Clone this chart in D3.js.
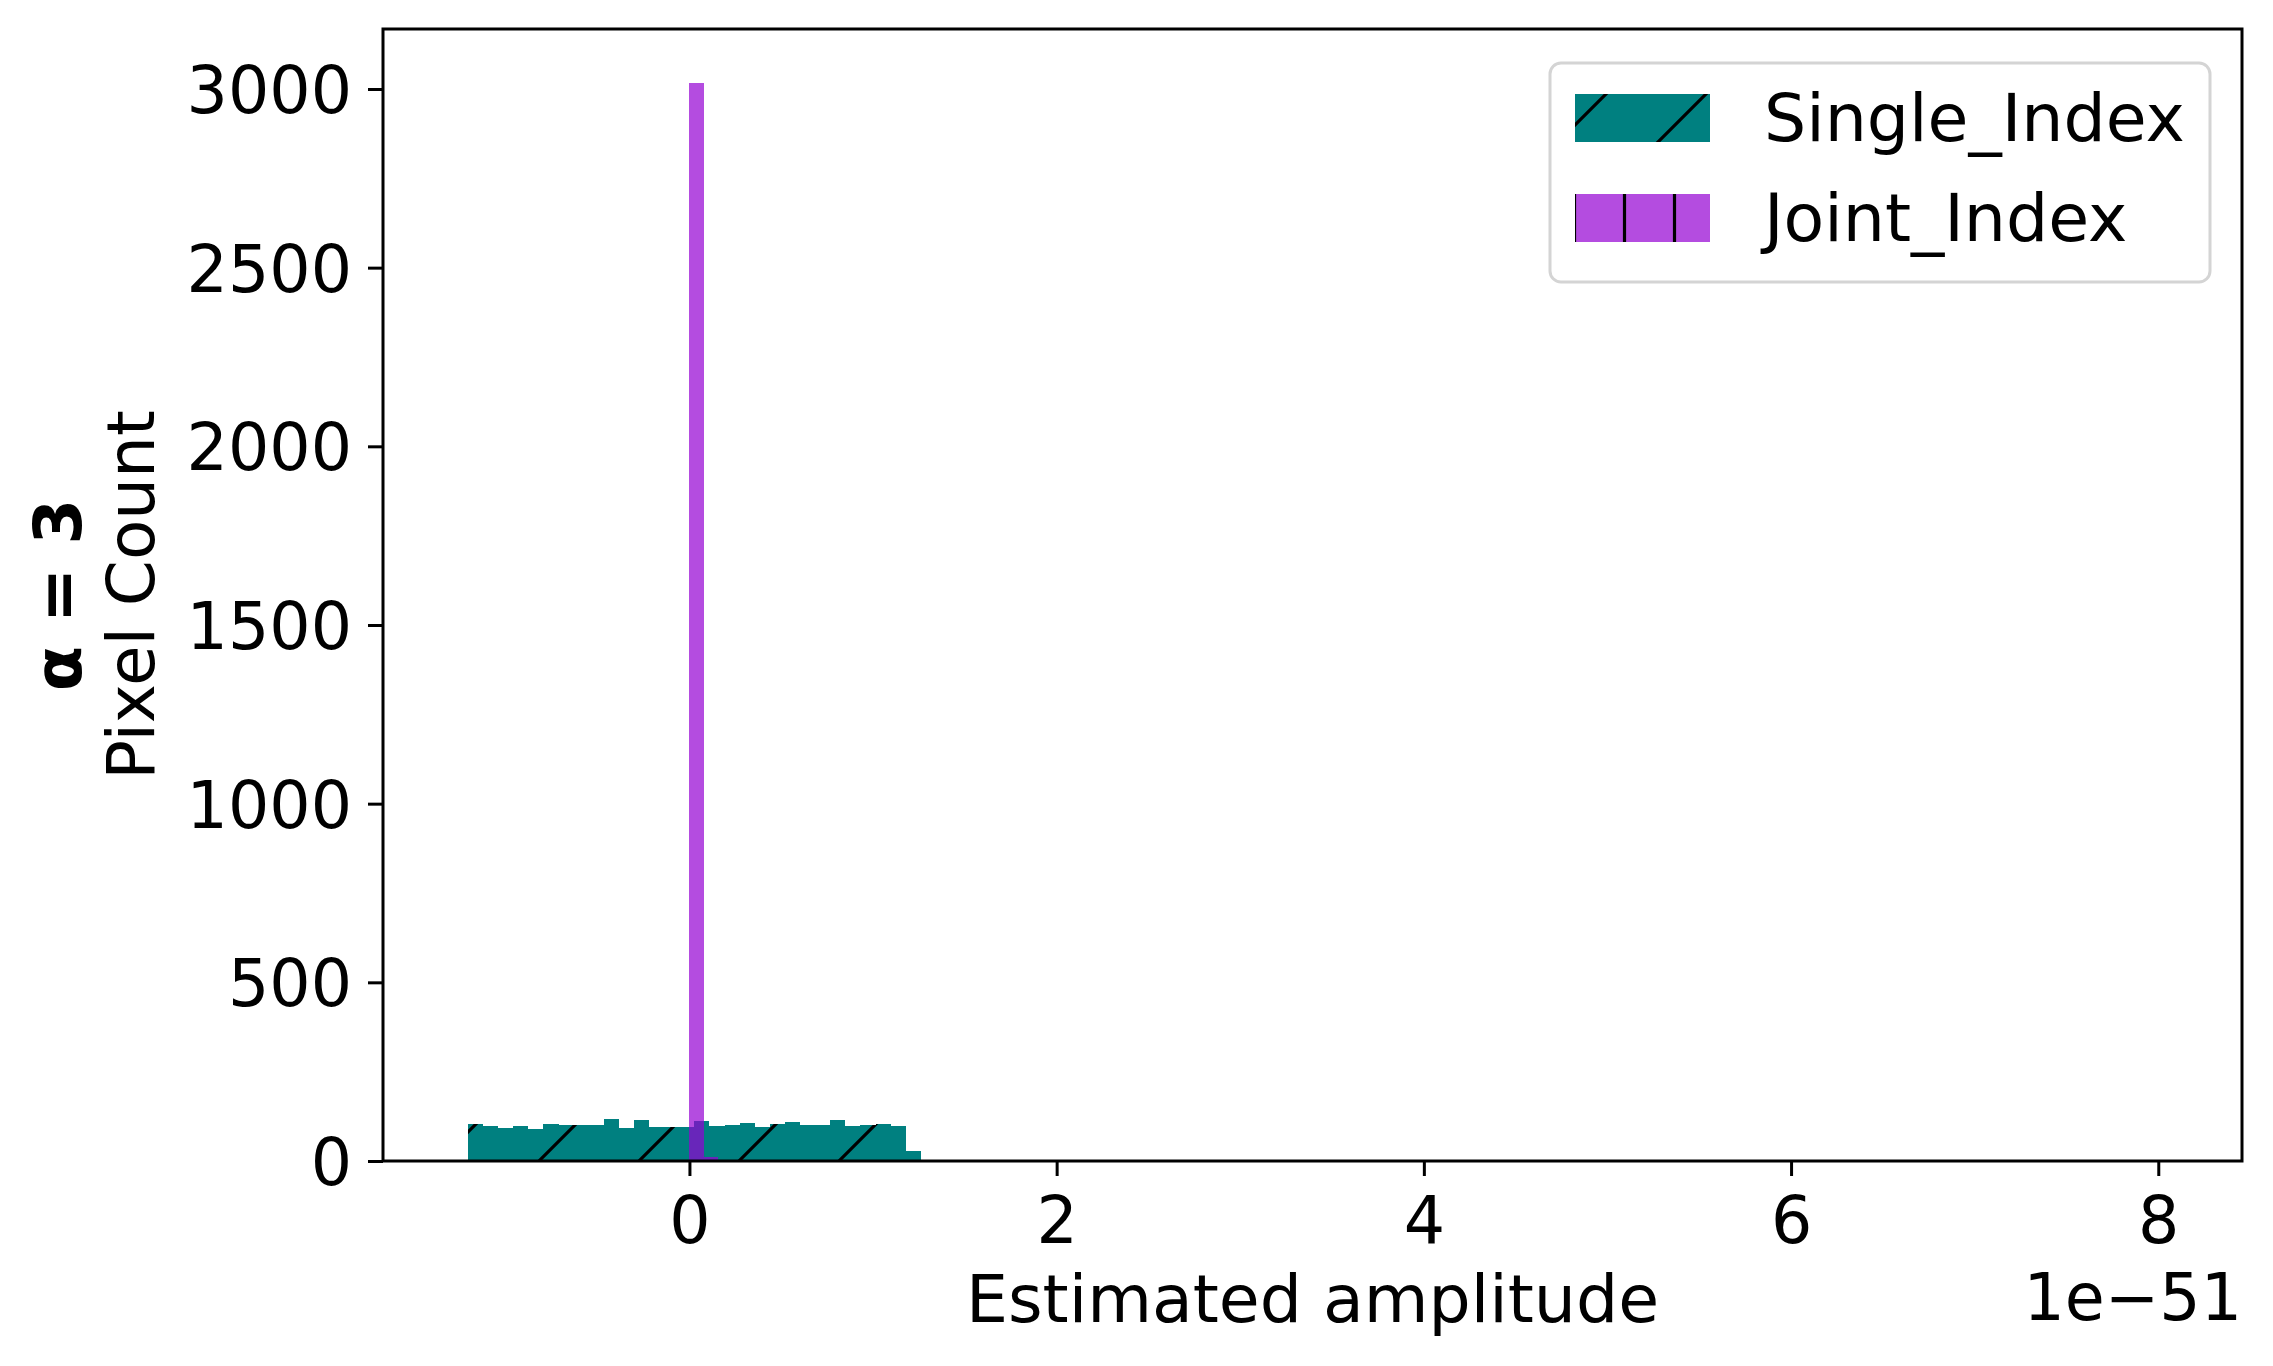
<!DOCTYPE html>
<html>
<head>
<meta charset="utf-8">
<script src="https://cdn.jsdelivr.net/npm/d3@7"></script>
<style>
  body { margin: 0; background: #fff; }
  text { font-family: "DejaVu Sans", sans-serif; }
</style>
</head>
<body>
<div id="myChart"></div>
<script>
// histogram data (amplitudes in units of 1e-51)
const singleStart = -1.206
const singleBinWidth = 0.0822
const singleCounts = [103, 97, 92, 97, 90, 103, 100, 100, 100, 117, 92, 114, 94, 94, 94,
  111, 97, 100, 105, 94, 103, 108, 100, 100, 114, 97, 100, 103, 97, 27]

const jointStart = 0.0
const jointBinWidth = 0.079
const jointCounts = [3017, 11]

const xLimits = [-1.669, 8.456]
const xTicks = [0, 2, 4, 6, 8]
const yTicks = [0, 500, 1000, 1500, 2000, 2500, 3000]
const seriesNames = ["Single_Index", "Joint_Index"]

let width = 2273
let height = 1366
const plot = { left: 383, right: 2242, top: 29, bottom: 1161 }

let svg = d3.select("#myChart")
  .append("svg")
  .attr("width", width)
  .attr("height", height)

let x = d3.scaleLinear().domain(xLimits).range([plot.left, plot.right])
let yMax = d3.max(jointCounts) * 1.05
let y = d3.scaleLinear().domain([0, yMax]).range([plot.bottom, plot.top])

// hatch patterns
let defs = svg.append("defs")
let slash = defs.append("pattern")
  .attr("id", "hatchSlash")
  .attr("patternUnits", "userSpaceOnUse")
  .attr("width", 100).attr("height", 100)
slash.append("path")
  .attr("d", "M0,100 L100,0 M-50,50 L50,-50 M50,150 L150,50")
  .attr("stroke", "#000").attr("stroke-width", 3.2)

let vbar = defs.append("pattern")
  .attr("id", "hatchVert")
  .attr("patternUnits", "userSpaceOnUse")
  .attr("width", 50).attr("height", 50)
vbar.append("path")
  .attr("d", "M24.5,0 V50")
  .attr("stroke", "#000").attr("stroke-width", 3.2)

let singleBins = singleCounts.map((c, i) => ({ x0: singleStart + i * singleBinWidth, x1: singleStart + (i + 1) * singleBinWidth, n: c }))
let jointBins = jointCounts.map((c, i) => ({ x0: jointStart + i * jointBinWidth, x1: jointStart + (i + 1) * jointBinWidth, n: c }))

function drawBars(bins, fill, opacity, hatch) {
  let g = svg.append("g")
  g.selectAll("rect.fill")
    .data(bins)
    .enter().append("rect")
    .attr("class", "fill")
    .attr("x", d => x(d.x0))
    .attr("width", d => x(d.x1) - x(d.x0))
    .attr("y", d => y(d.n))
    .attr("height", d => y(0) - y(d.n))
    .attr("fill", fill)
    .attr("fill-opacity", opacity)
    .attr("shape-rendering", "crispEdges")
  g.selectAll("rect.hatch")
    .data(bins)
    .enter().append("rect")
    .attr("class", "hatch")
    .attr("x", d => x(d.x0))
    .attr("width", d => x(d.x1) - x(d.x0))
    .attr("y", d => y(d.n))
    .attr("height", d => y(0) - y(d.n))
    .attr("fill", "url(#" + hatch + ")")
    .attr("shape-rendering", "crispEdges")
}

drawBars(singleBins, "#008080", 1, "hatchSlash")
drawBars(jointBins, "#9400d3", 0.7, "hatchVert")

// axes
let xAxis = svg.append("g")
  .attr("transform", `translate(0,${plot.bottom})`)
  .call(d3.axisBottom(x).tickValues(xTicks).tickSize(15).tickPadding(18).tickFormat(d3.format("d")))
let yAxis = svg.append("g")
  .attr("transform", `translate(${plot.left},0)`)
  .call(d3.axisLeft(y).tickValues(yTicks).tickSize(15).tickPadding(16).tickFormat(d3.format("d")))

svg.selectAll(".tick line").attr("stroke", "#000").attr("stroke-width", 3)
svg.selectAll(".domain").remove()
svg.selectAll(".tick text")
  .attr("fill", "#000")
  .style("font-size", "65px")
  .style("font-family", "DejaVu Sans")
yAxis.selectAll(".tick text").attr("dy", "0.36em")
xAxis.selectAll(".tick text").attr("dy", "0.76em")

// frame
svg.append("rect")
  .attr("x", plot.left).attr("y", plot.top)
  .attr("width", plot.right - plot.left)
  .attr("height", plot.bottom - plot.top)
  .attr("fill", "none")
  .attr("stroke", "#000")
  .attr("stroke-width", 3)

// labels
svg.append("text")
  .attr("x", (plot.left + plot.right) / 2)
  .attr("y", 1322)
  .attr("text-anchor", "middle")
  .style("font-size", "66.5px")
  .text("Estimated amplitude")

svg.append("text")
  .attr("x", plot.right)
  .attr("y", 1320)
  .attr("text-anchor", "end")
  .style("font-size", "65px")
  .text("1e\u221251")

let yMid = (plot.top + plot.bottom) / 2
svg.append("text")
  .attr("transform", `translate(81,${yMid}) rotate(-90)`)
  .attr("text-anchor", "middle")
  .style("font-size", "66px")
  .style("font-weight", "bold")
  .text("\u03b1 = 3")
svg.append("text")
  .attr("transform", `translate(154,${yMid}) rotate(-90)`)
  .attr("text-anchor", "middle")
  .style("font-size", "66px")
  .text("Pixel Count")

// legend
let legend = svg.append("g")
legend.append("rect")
  .attr("x", 1550).attr("y", 63)
  .attr("width", 660).attr("height", 219)
  .attr("rx", 11)
  .attr("fill", "#fff")
  .attr("fill-opacity", 0.8)
  .attr("stroke", "#d4d4d4")
  .attr("stroke-width", 3)

let legendItems = [
  { name: seriesNames[0], fill: "#008080", opacity: 1, hatch: "hatchSlash" },
  { name: seriesNames[1], fill: "#9400d3", opacity: 0.7, hatch: "hatchVert" }
]
legendItems.forEach((item, i) => {
  let yy = 94 + i * 100
  legend.append("rect")
    .attr("x", 1575).attr("y", yy).attr("width", 135).attr("height", 48)
    .attr("fill", item.fill).attr("fill-opacity", item.opacity)
  legend.append("rect")
    .attr("x", 1575).attr("y", yy).attr("width", 135).attr("height", 48)
    .attr("fill", "url(#" + item.hatch + ")")
  legend.append("text")
    .attr("x", 1764).attr("y", yy + 47)
    .style("font-size", "66.5px")
    .text(item.name)
})
</script>
</body>
</html>
